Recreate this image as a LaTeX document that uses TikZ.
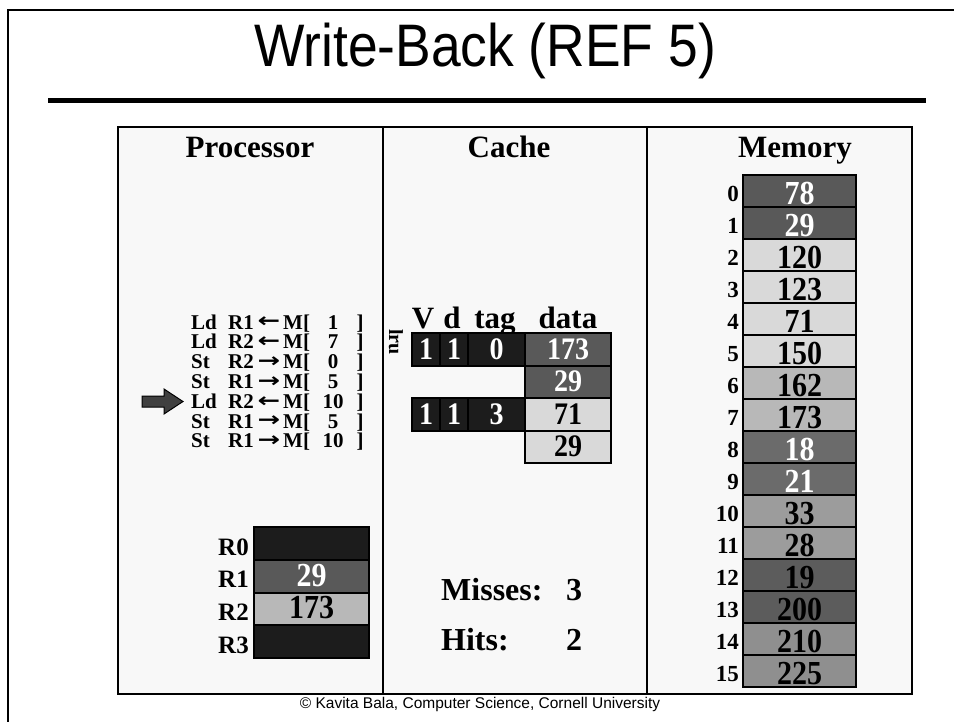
\documentclass[tikz,border=0pt]{standalone}
\usepackage{graphicx}
\usepackage{fontspec}
\setmainfont{Liberation Serif}
\newfontfamily\slidesans{Liberation Sans}
\newfontfamily\arrowglyphs{DejaVu Sans}
\newcommand\fsz[1]{\fontsize{#1}{#1}\selectfont}
\newcommand\tallnum[1]{\scalebox{1}[1.12]{#1}}

\definecolor{panelbg}{HTML}{F8F8F8}
\definecolor{cellblack}{HTML}{1C1C1C}
\definecolor{celldark}{HTML}{595959}
\definecolor{cellmid}{HTML}{6B6B6B}
\definecolor{celldeep}{HTML}{5C5C5C}
\definecolor{celllight}{HTML}{D9D9D9}
\definecolor{cellsilver}{HTML}{B8B8B8}
\definecolor{cellgray}{HTML}{9C9C9C}
\definecolor{cellslate}{HTML}{8F8F8F}
\definecolor{pointer}{HTML}{404040}

\begin{document}
\begin{tikzpicture}[x=1pt,y=-1pt,
  frameline/.style={line width=2.5pt},
  hdr/.style={anchor=base, font=\bfseries\fsz{31}},
  instr/.style={anchor=base west, font=\bfseries\fsz{21}, inner sep=0pt},
  instrc/.style={anchor=base, font=\bfseries\fsz{21}, inner sep=0pt},
  dirarrow/.style={anchor=center, font=\arrowglyphs\bfseries\fsz{20}, inner sep=0pt},
  boxcell/.style={draw=black, line width=2pt, inner sep=0pt, anchor=north west,
    font=\bfseries\fsz{28}, text depth=0pt},
  memcell/.style={boxcell, minimum width=113pt, minimum height=32pt,
    font=\bfseries\fsz{30}, text height=26pt},
  cachecell/.style={boxcell, minimum height=32.5pt, text height=20pt},
  regcell/.style={boxcell, minimum width=115pt, minimum height=32.7pt,
    font=\bfseries\fsz{30}, text height=20pt},
  idx/.style={anchor=base east, font=\bfseries\fsz{23}, inner sep=0pt},
  stat/.style={anchor=base west, font=\bfseries\fsz{32}, inner sep=0pt},
  statnum/.style={anchor=base, font=\bfseries\fsz{32}, inner sep=0pt}]

\useasboundingbox (0,0) rectangle (954,721);
\fill[white] (0,0) rectangle (954,721);

% slide frame and title
\draw[frameline] (8,730) -- (8,10) -- (960,10);
\node[anchor=base, font=\slidesans\fsz{60}, inner sep=0pt] (title) at (485,66)
  {\scalebox{0.89}[1]{Write-Back (REF 5)}};
\draw[line width=5pt] (48,100) -- (926,100);

% three panels
\filldraw[fill=panelbg, frameline] (118,127) rectangle (912,694);
\draw[frameline] (383,127) -- (383,694);
\draw[frameline] (647,127) -- (647,694);

\node[hdr] (hproc) at (250,157) {Processor};
\node[hdr] (hcache) at (509,157) {Cache};
\node[hdr] (hmem) at (795,157) {Memory};

% instruction list
\foreach \op/\rg/\ar/\ad [count=\i from 0] in
  {Ld/R1/←/1, Ld/R2/←/7, St/R2/→/0, St/R1/→/5, Ld/R2/←/10, St/R1/→/5, St/R1/→/10}
{
  \pgfmathsetmacro\yb{329+19.8*\i}
  \node[instr] (op\i) at (191,\yb) {\op};
  \node[instr] (rg\i) at (228,\yb) {\rg};
  \node[dirarrow] (ar\i) at (269,\yb-6.5) {\scalebox{1.35}[1]{\ar}};
  \node[instr] (mb\i) at (283,\yb) {M[};
  \node[instrc] (ad\i) at (333,\yb) {\ad};
  \node[instrc] (cb\i) at (360,\yb) {]};
}

% current-instruction pointer
\def\py{401.5}
\filldraw[fill=pointer, line width=1pt]
  (142,\py-5.5) -- (164,\py-5.5) -- (164,\py-12.5) -- (183,\py)
  -- (164,\py+12.5) -- (164,\py+5.5) -- (142,\py+5.5) -- cycle;

% registers
\foreach \lab/\val/\fc/\tc [count=\i from 0] in
  {R0//cellblack/white, R1/29/celldark/white, R2/173/cellsilver/black, R3//cellblack/white}
{
  \pgfmathsetmacro\yt{526+32.8*\i}
  \node[regcell, fill=\fc, text=\tc] (reg\i) at (253,\yt) {\tallnum{\val}};
  \node[idx, font=\bfseries\fsz{25}] (rl\i) at (249,\yt+29) {\lab};
}

% cache
\node[anchor=base, font=\bfseries\fsz{31}] (cv) at (423,328) {V};
\node[anchor=base, font=\bfseries\fsz{31}] (cd) at (452,328) {d};
\node[anchor=base, font=\bfseries\fsz{31}] (ct) at (495,328) {tag};
\node[anchor=base, font=\bfseries\fsz{31}] (cdt) at (568,328) {data};
\node[rotate=-90, font=\bfseries\fsz{20}, inner sep=0pt] (lru) at (396,342) {lru};

\foreach \r/\yt in {0/332, 2/397}
{
  \node[cachecell, fill=cellblack, text=white, minimum width=28pt] (v\r) at (411,\yt) {\tallnum{1}};
  \node[cachecell, fill=cellblack, text=white, minimum width=28pt] (d\r) at (439,\yt) {\tallnum{1}};
}
\node[cachecell, fill=cellblack, text=white, minimum width=57pt] (t0) at (467,332) {\tallnum{0}};
\node[cachecell, fill=cellblack, text=white, minimum width=57pt] (t2) at (467,397) {\tallnum{3}};
\node[cachecell, fill=celldark, text=white, minimum width=86pt] (c0) at (524,332) {\tallnum{173}};
\node[cachecell, fill=celldark, text=white, minimum width=86pt] (c1) at (524,364.5) {\tallnum{29}};
\node[cachecell, fill=celllight, text=black, minimum width=86pt] (c2) at (524,397) {\tallnum{71}};
\node[cachecell, fill=celllight, text=black, minimum width=86pt] (c3) at (524,429.5) {\tallnum{29}};

\node[stat] (miss) at (441,600) {Misses:};
\node[statnum] (missn) at (574,600) {3};
\node[stat] (hits) at (441,650) {Hits:};
\node[statnum] (hitsn) at (574,650) {2};

% memory
\foreach \v/\fc/\tc [count=\k from 0] in
  {78/celldark/white, 29/celldark/white, 120/celllight/black, 123/celllight/black,
   71/celllight/black, 150/celllight/black, 162/cellsilver/black, 173/cellsilver/black,
   18/cellmid/white, 21/cellmid/white, 33/cellgray/black, 28/cellgray/black,
   19/celldeep/black, 200/celldeep/black, 210/cellslate/black, 225/cellslate/black}
{
  \pgfmathsetmacro\yt{174+32*\k}
  \node[memcell, fill=\fc, text=\tc] (m\k) at (742,\yt) {\tallnum{\v}};
  \node[idx] (ml\k) at (739,\yt+27) {\k};
}

\node[anchor=base, font=\slidesans\fsz{15.5}, inner sep=0pt] (credit) at (480,708)
  {© Kavita Bala, Computer Science, Cornell University};
\end{tikzpicture}
\end{document}
